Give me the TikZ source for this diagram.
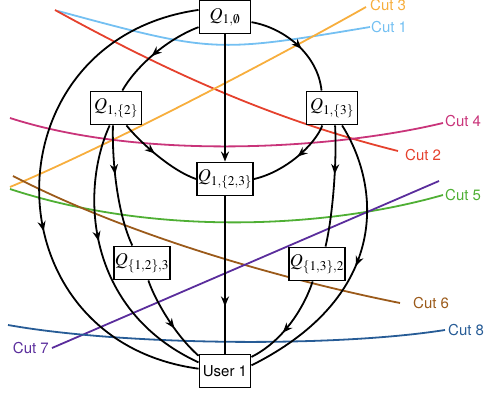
\documentclass[tikz,border=0pt]{standalone}
\usepackage{mathptmx}
\usepackage{fontspec}
\setsansfont{TeX Gyre Heros}
\usetikzlibrary{arrows.meta, decorations.markings}

\tikzset{
  qbox/.style={draw, fill=white, line width=1.9pt, minimum width=51pt,
    minimum height=33pt, inner sep=1pt, font=\fontsize{18}{21}\selectfont},
  flow/.style={line width=1.8pt},
  midarrow/.style={postaction={decorate}, decoration={markings,
    mark=at position #1 with {\arrow{Stealth[length=10pt,width=8pt]}}}},
  midarrow/.default=0.5,
  cut/.style={line width=1.8pt},
  cutlabel/.style={font=\sffamily\fontsize{15}{17}\selectfont, inner sep=0pt},
}

\begin{document}
\begin{tikzpicture}[x=1pt, y=-1pt]
    \useasboundingbox (0,0) rectangle (488,396);

    \definecolor{cutOne}{HTML}{74C0F2}
    \definecolor{cutTwo}{HTML}{E5412D}
    \definecolor{cutThree}{HTML}{F7AE3D}
    \definecolor{cutFour}{HTML}{C9347A}
    \definecolor{cutFive}{HTML}{4FAF34}
    \definecolor{cutSix}{HTML}{9B5A1A}
    \definecolor{cutSeven}{HTML}{5A2D9C}
    \definecolor{cutEight}{HTML}{275C96}

    % Draw cuts
    \draw[cut, cutOne] (58,11) .. controls (214,53) .. (370,27);
    \draw[cut, cutTwo] (55,10) .. controls (175,76) and (278,121) .. (398,151);
    \draw[cut, cutThree] (10,187) .. controls (110,145) and (272,60) .. (366,7);
    \draw[cut, cutFour] (10,118) .. controls (140,160) and (330,150) .. (443,123);
    \draw[cut, cutFive] (10,189) .. controls (150,235) and (320,230) .. (443,195);
    \draw[cut, cutSix] (13,176) .. controls (133,238) and (290,281) .. (400,303);
    \draw[cut, cutSeven] (52,348) -- (439,181);
    \draw[cut, cutEight] (8,325) .. controls (120,345) and (330,348) .. (445,330);

    % Label cuts
    \node[cutlabel, anchor=west, cutOne] (labelOne) at (371,27) {Cut 1};
    \node[cutlabel, anchor=west, cutTwo] (labelTwo) at (405,155) {Cut 2};
    \node[cutlabel, anchor=west, cutThree] (labelThree) at (370,5) {Cut 3};
    \node[cutlabel, anchor=west, cutFour] (labelFour) at (445,121) {Cut 4};
    \node[cutlabel, anchor=west, cutFive] (labelFive) at (445,195.5) {Cut 5};
    \node[cutlabel, anchor=west, cutSix] (labelSix) at (413,303) {Cut 6};
    \node[cutlabel, anchor=east, cutSeven] (labelSeven) at (49,348.5) {Cut 7};
    \node[cutlabel, anchor=west, cutEight] (labelEight) at (448,330) {Cut 8};

    % Draw states
    \node[qbox] (qEmpty) at (225,17) {$Q_{1,\emptyset}$};
    \node[qbox] (qTwo) at (116,108) {$Q_{1,\{2\}}$};
    \node[qbox] (qThree) at (332,108) {$Q_{1,\{3\}}$};
    \node[qbox] (qTwoThree) at (225,179) {$Q_{1,\{2,3\}}$};
    \node[qbox] (qOneTwo) at (142,263) {$Q_{\{1,2\},3}$};
    \node[qbox] (qOneThree) at (317,264) {$Q_{\{1,3\},2}$};
    \node[qbox, font=\sffamily\fontsize{15}{17}\selectfont] (user) at (225,371) {User 1};

    % Draw flows out of the first state
    \draw[flow, midarrow=0.55] (qEmpty.201) .. controls (165,40) and (135,68) .. (qTwo.70);
    \draw[flow, midarrow=0.58] (qEmpty.165) .. controls (-14,40) and (-14,340) .. (user.175);
    \draw[flow, midarrow=0.55] (qEmpty.-11) .. controls (285,28) and (318,55) .. (qThree.121);
    \draw[flow, -{Stealth[length=10pt,width=8pt]}] (qEmpty) -- (qTwoThree);

    % Draw flows out of the middle row
    \draw[flow, midarrow=0.45] (qTwo.-59) .. controls (138,140) and (170,170) .. (qTwoThree.west);
    \draw[flow, midarrow=0.45] (qThree.241) .. controls (315,145) and (285,172) .. (qTwoThree.east);
    \draw[flow, midarrow=0.4] (qTwo.-100) .. controls (112,165) and (118,215) .. (qOneTwo.119);
    \draw[flow, midarrow=0.42] (qTwo.-110) .. controls (80,190) and (85,310) .. (user.162);
    \draw[flow, midarrow=0.4] (qThree.-80) .. controls (337,160) and (333,215) .. (qOneThree.64);
    \draw[flow, midarrow=0.5] (qThree.-60) .. controls (380,185) and (392,295) .. (user.12);

    % Draw flows into the user
    \draw[flow, midarrow=0.7] (qTwoThree) -- (user);
    \draw[flow, midarrow=0.6] (qOneTwo.-70) .. controls (155,300) and (175,335) .. (user.150);
    \draw[flow, midarrow=0.6] (qOneThree.256) .. controls (305,305) and (285,340) .. (user.28);

\end{tikzpicture}
\end{document}
